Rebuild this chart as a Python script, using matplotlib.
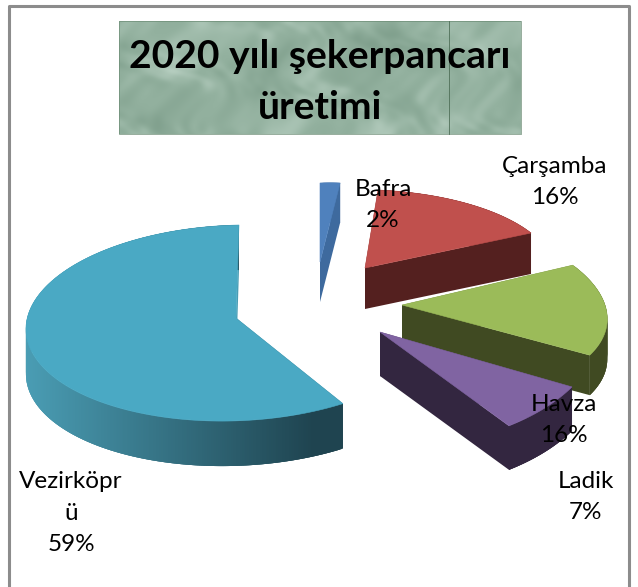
import numpy as np
import matplotlib

matplotlib.use('Agg')

import matplotlib.pyplot as plt
from matplotlib.collections import PolyCollection
from matplotlib.colors import to_rgb
from matplotlib.patches import Polygon, Rectangle

categories = ['Bafra', 'Çarşamba', 'Havza', 'Ladik', 'Vezirköpr\nü']
values = [2, 16, 16, 7, 59]
title = '2020 yılı şekerpancarı\nüretimi'

top_colors = ['#4f81bd', '#c0504d', '#9bbb59', '#8064a2', '#4aa9c4']
wall_colors = ['#3e6a9e', '#54201f', '#404a22', '#332640', '#1f4450']
rim_left_colors = ['#3e6a9e', '#54201f', '#404a22', '#332640', '#4a9db4']

# layout in image pixels, each exploded slice gets its own squash and skew
# because the original has perspective
apex = [(320, 262), (365, 268), (402, 305), (380, 332), (236, 318)]
centre_shift = [(0, 0), (0, 0), (0, 0), (0, 0), (-1.3, 5)]
radius_x = [160, 188.5, 203, 218.4, 208.7]
skew_x = [0, -10.7, -30.5, -14.2, 4.3]
radius_y = [79, 78.4, 93.6, 117, 98]
skew_y = [-5, -1.8, 0, -9.2, -4]
depth = [40, 41, 40, 44, 45]
label_pos = [(383, 205), (555, 182), (564, 420), (586, 497), (71, 513)]

fig = plt.figure(figsize=(6.38, 5.87), dpi=100)
ax = fig.add_axes([0, 0, 1, 1])

# frame, the bottom edge is cut off in the picture
ax.plot([9, 9, 629, 629], [587, 5.5, 5.5, 587], color='#8c8c8c', lw=2.2, zorder=1)

# marble title background
xx, yy = np.meshgrid(np.arange(402.0), np.arange(113.0))
warp = 9 * np.sin(xx / 37 + yy / 23) + 7 * np.sin(yy / 11 - xx / 53)
marble = np.zeros_like(xx)
for fx, fy, ph, amp in [(61, 29, 0.4, 0.7), (23, 41, 2.1, 0.7), (37, 13, 4.0, 0.6), (13, 19, 1.3, 0.55),
                        (9, 7, 5.2, 0.45), (17, 5, 3.3, 0.4), (6, 11, 0.9, 0.35), (4, 5, 2.7, 0.25),
                        (3, 7, 1.9, 0.2), (5, 3, 4.4, 0.2)]:
    marble += amp * np.sin((xx + warp) / fx + ph) * np.sin((yy - warp) / fy + ph * 1.7)
marble = marble / np.abs(marble).max()
base = np.array(to_rgb('#93b19f'))
light = np.array(to_rgb('#b5cdbf'))
dark = np.array(to_rgb('#7c9c89'))
tex = np.where(marble[..., None] > 0,
               base + (light - base) * marble[..., None],
               base - (dark - base) * marble[..., None])
ax.imshow(tex, extent=(119, 521, 134, 21), aspect='auto', zorder=2, interpolation='bilinear')
ax.set_xlim(0, 638)
ax.set_ylim(587, 0)
ax.axis('off')
ax.add_patch(Rectangle((119, 21), 402, 113, fill=False, ec='#6d8d76', lw=0.5, zorder=3))
ax.plot([449, 449], [21, 134], color='#4f6f58', lw=0.6, zorder=3)
ax.text(320, 82, title, ha='center', va='center', fontsize=28.1, fontweight='bold',
        family='Lato', color='black', linespacing=1.54, zorder=4)

total = sum(values)
start = 90.0
z = 5
for i, val in enumerate(values):
    sweep = 360.0 * val / total
    th = np.radians(np.linspace(start, start - sweep, max(int(sweep * 2), 8)))
    px, py = apex[i]
    cx = px + centre_shift[i][0]
    cy = py + centre_shift[i][1]
    rx = cx + radius_x[i] * np.cos(th) + skew_x[i] * np.sin(th)
    ry = cy - radius_y[i] * np.sin(th) + skew_y[i] * np.cos(th)
    d = depth[i]

    # radial faces first, the top face hides whatever should not show
    for k, fc in ((0, wall_colors[i]), (-1, rim_left_colors[i])):
        ax.add_patch(Polygon([(px, py), (rx[k], ry[k]), (rx[k], ry[k] + d), (px, py + d)],
                             fc=fc, ec='none', zorder=z))

    # outer wall as strips so it can carry a left to right shade,
    # each strip overlaps the next one to hide the seams
    strips = []
    cols = []
    left = np.array(to_rgb(rim_left_colors[i]))
    right = np.array(to_rgb(wall_colors[i]))
    for j in range(len(th) - 1):
        n = min(j + 3, len(th) - 1)
        strips.append([(rx[j], ry[j]), (rx[j + 1], ry[j + 1]), (rx[n], ry[n]),
                       (rx[n], ry[n] + d), (rx[j + 1], ry[j + 1] + d), (rx[j], ry[j] + d)])
        f = np.clip((rx[j] - rx.min()) / max(rx.max() - rx.min(), 1) * 1.1, 0, 1)
        cols.append(left + (right - left) * f)
    ax.add_collection(PolyCollection(strips, facecolors=cols, edgecolors='none', zorder=z))

    ax.add_patch(Polygon(np.column_stack([np.r_[px, rx], np.r_[py, ry]]),
                         fc=top_colors[i], ec=top_colors[i], lw=0.4, zorder=z + 0.5))
    start -= sweep
    z += 1

for name, val, (lx, ly) in zip(categories, values, label_pos):
    ax.text(lx, ly, f'{name}\n{round(100 * val / total)}%', ha='center', va='center',
            fontsize=17.5, family='Lato', color='black', linespacing=1.62, zorder=20)

fig.savefig('out.png', dpi=100, facecolor='white')
